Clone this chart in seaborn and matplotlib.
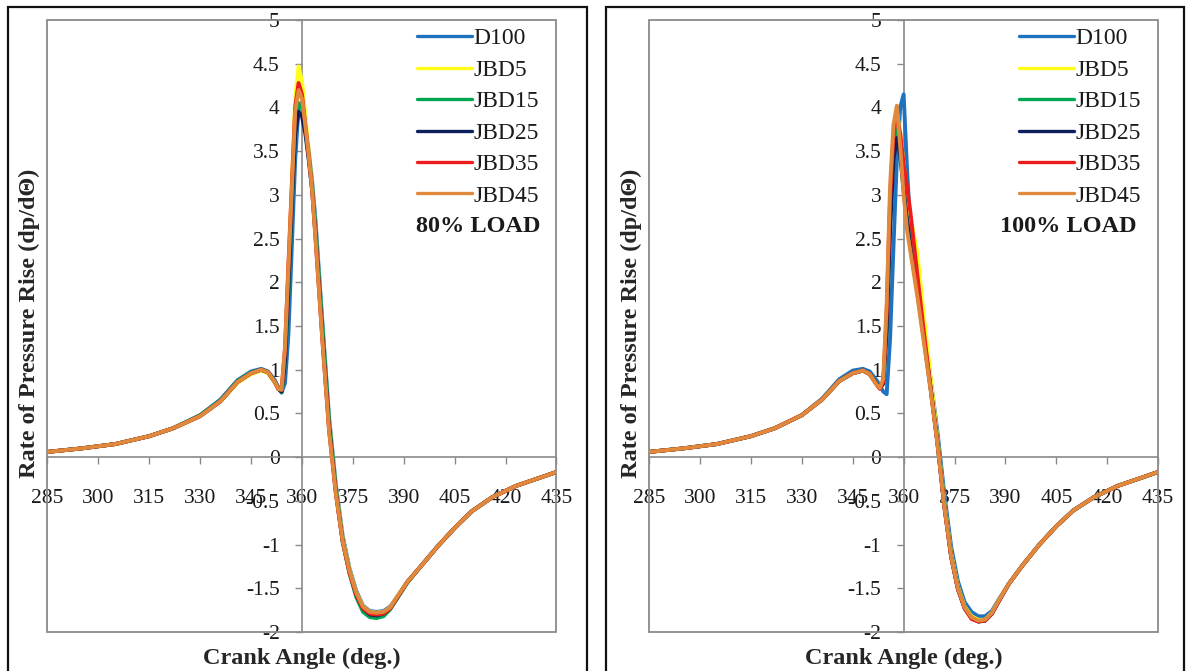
import numpy as np
import pandas as pd
import seaborn as sns
import matplotlib.pyplot as plt
from matplotlib.patches import Rectangle
from matplotlib.ticker import FuncFormatter, MultipleLocator

# crank angle grid (deg.)
ANGLE = [285, 295, 305, 315, 322, 330, 336, 341, 345, 348,
         350, 352, 353, 354, 355, 356, 357, 358, 359, 360,
         361, 362, 363, 364, 366, 368, 370, 372, 374, 376,
         378, 380, 382, 384, 386, 388, 391, 395, 400, 405,
         410, 416, 423, 435]

FUELS = ['D100', 'JBD5', 'JBD15', 'JBD25', 'JBD35', 'JBD45']
COLORS = ['#1f72bd', '#ffff1a', '#00a651', '#0d1f5c', '#ee1c1c', '#e0893c']

# 80 % load, dp/dtheta
d100_80 = [0.06, 0.10, 0.15, 0.24, 0.33, 0.48, 0.66, 0.88, 0.98, 1.01,
           0.98, 0.88, 0.80, 0.74, 0.85, 1.40, 2.40, 3.40, 4.00, 4.05,
           3.80, 3.50, 3.15, 2.70, 1.55, 0.45, -0.32, -0.90, -1.27, -1.53,
           -1.70, -1.76, -1.77, -1.76, -1.71, -1.60, -1.43, -1.25, -1.02, -0.81,
           -0.62, -0.46, -0.33, -0.17]
jbd5_80 = [0.06, 0.10, 0.15, 0.24, 0.33, 0.47, 0.64, 0.85, 0.95, 0.99,
           0.96, 0.85, 0.78, 0.77, 1.20, 2.10, 3.10, 4.10, 4.47, 4.30,
           3.90, 3.50, 3.10, 2.60, 1.45, 0.40, -0.36, -0.93, -1.29, -1.55,
           -1.71, -1.77, -1.78, -1.77, -1.72, -1.60, -1.43, -1.25, -1.02, -0.81,
           -0.62, -0.46, -0.33, -0.17]
jbd15_80 = [0.06, 0.10, 0.15, 0.24, 0.33, 0.48, 0.65, 0.87, 0.97, 1.00,
            0.97, 0.87, 0.79, 0.74, 1.10, 1.90, 2.90, 3.80, 4.05, 4.00,
            3.75, 3.45, 3.10, 2.60, 1.50, 0.40, -0.38, -0.97, -1.33, -1.60,
            -1.77, -1.83, -1.84, -1.82, -1.74, -1.62, -1.44, -1.25, -1.02, -0.81,
            -0.62, -0.46, -0.33, -0.17]
jbd25_80 = [0.06, 0.10, 0.15, 0.24, 0.33, 0.47, 0.64, 0.86, 0.96, 1.00,
            0.97, 0.86, 0.78, 0.75, 1.10, 1.95, 2.90, 3.70, 3.95, 3.90,
            3.70, 3.40, 3.05, 2.55, 1.40, 0.35, -0.40, -0.96, -1.31, -1.57,
            -1.73, -1.80, -1.81, -1.79, -1.73, -1.61, -1.43, -1.25, -1.02, -0.81,
            -0.62, -0.46, -0.33, -0.17]
jbd35_80 = [0.06, 0.10, 0.15, 0.24, 0.33, 0.47, 0.64, 0.86, 0.96, 1.00,
            0.97, 0.86, 0.78, 0.77, 1.25, 2.20, 3.10, 4.00, 4.28, 4.15,
            3.80, 3.45, 3.05, 2.50, 1.35, 0.30, -0.42, -0.97, -1.32, -1.57,
            -1.73, -1.79, -1.80, -1.79, -1.73, -1.61, -1.43, -1.25, -1.02, -0.81,
            -0.62, -0.46, -0.33, -0.17]
jbd45_80 = [0.06, 0.10, 0.15, 0.24, 0.33, 0.47, 0.64, 0.86, 0.96, 1.00,
            0.97, 0.86, 0.78, 0.77, 1.25, 2.15, 3.05, 3.95, 4.20, 4.10,
            3.80, 3.45, 3.05, 2.50, 1.35, 0.30, -0.42, -0.96, -1.30, -1.55,
            -1.71, -1.77, -1.78, -1.77, -1.72, -1.60, -1.43, -1.25, -1.02, -0.81,
            -0.62, -0.46, -0.33, -0.17]

# 100 % load, dp/dtheta
d100_100 = [0.06, 0.10, 0.15, 0.24, 0.33, 0.48, 0.67, 0.89, 0.99, 1.01,
            0.98, 0.88, 0.82, 0.75, 0.72, 1.35, 2.40, 3.40, 4.00, 4.15,
            3.30, 2.60, 2.30, 2.05, 1.48, 0.88, 0.28, -0.42, -1.02, -1.42,
            -1.66, -1.77, -1.82, -1.82, -1.76, -1.63, -1.45, -1.24, -1.00, -0.79,
            -0.61, -0.46, -0.33, -0.17]
jbd5_100 = [0.06, 0.10, 0.15, 0.24, 0.33, 0.48, 0.66, 0.87, 0.96, 0.99,
            0.95, 0.84, 0.79, 0.86, 1.60, 2.90, 3.70, 3.95, 3.70, 3.35,
            3.00, 2.75, 2.55, 2.35, 1.60, 0.90, 0.20, -0.52, -1.10, -1.48,
            -1.71, -1.82, -1.86, -1.86, -1.78, -1.64, -1.45, -1.24, -1.00, -0.79,
            -0.61, -0.46, -0.33, -0.17]
jbd15_100 = [0.06, 0.10, 0.15, 0.24, 0.33, 0.48, 0.66, 0.87, 0.96, 0.99,
             0.95, 0.84, 0.79, 0.84, 1.50, 2.70, 3.50, 3.75, 3.50, 3.10,
             2.70, 2.40, 2.15, 1.90, 1.35, 0.78, 0.16, -0.55, -1.13, -1.50,
             -1.73, -1.84, -1.88, -1.87, -1.79, -1.65, -1.45, -1.24, -1.00, -0.79,
             -0.61, -0.46, -0.33, -0.17]
jbd25_100 = [0.06, 0.10, 0.15, 0.24, 0.33, 0.48, 0.66, 0.87, 0.96, 0.99,
             0.95, 0.84, 0.79, 0.84, 1.45, 2.60, 3.40, 3.65, 3.45, 3.05,
             2.70, 2.40, 2.15, 1.90, 1.35, 0.77, 0.15, -0.56, -1.14, -1.51,
             -1.73, -1.84, -1.88, -1.87, -1.79, -1.65, -1.45, -1.24, -1.00, -0.79,
             -0.61, -0.46, -0.33, -0.17]
jbd35_100 = [0.06, 0.10, 0.15, 0.24, 0.33, 0.48, 0.66, 0.87, 0.96, 0.99,
             0.95, 0.83, 0.78, 0.86, 1.65, 2.95, 3.70, 3.90, 3.70, 3.35,
             3.10, 2.80, 2.45, 2.10, 1.42, 0.78, 0.15, -0.57, -1.14, -1.51,
             -1.73, -1.85, -1.88, -1.87, -1.79, -1.65, -1.45, -1.24, -1.00, -0.79,
             -0.61, -0.46, -0.33, -0.17]
jbd45_100 = [0.06, 0.10, 0.15, 0.24, 0.33, 0.48, 0.66, 0.87, 0.96, 0.99,
             0.95, 0.83, 0.79, 0.90, 1.75, 3.10, 3.80, 4.02, 3.55, 3.00,
             2.60, 2.35, 2.10, 1.85, 1.30, 0.75, 0.14, -0.56, -1.13, -1.50,
             -1.72, -1.83, -1.87, -1.86, -1.78, -1.64, -1.45, -1.24, -1.00, -0.79,
             -0.61, -0.46, -0.33, -0.17]

load80 = [d100_80, jbd5_80, jbd15_80, jbd25_80, jbd35_80, jbd45_80]
load100 = [d100_100, jbd5_100, jbd15_100, jbd25_100, jbd35_100, jbd45_100]

sns.set_theme(style='white')
plt.rcParams['font.family'] = ['Liberation Serif', 'DejaVu Serif']
plt.rcParams['text.color'] = '#1a1a1a'

GRAY = '#8a8a8a'


def draw_panel(ax, series, load_text, text_x):
    df = pd.concat([pd.DataFrame({'angle': ANGLE, 'rate': vals, 'fuel': name})
                    for name, vals in zip(FUELS, series)])
    sns.lineplot(data=df, x='angle', y='rate', hue='fuel', hue_order=FUELS,
                 palette=dict(zip(FUELS, COLORS)), linewidth=2.8, ax=ax,
                 zorder=3, solid_joinstyle='round', solid_capstyle='round')

    ax.set_xlim(285, 435)
    ax.set_ylim(-2, 5)
    ax.xaxis.set_major_locator(MultipleLocator(15))
    ax.yaxis.set_major_locator(MultipleLocator(0.5))
    ax.yaxis.set_major_formatter(FuncFormatter(lambda v, p: f'{v:g}'))
    ax.xaxis.set_major_formatter(FuncFormatter(lambda v, p: f'{v:g}'))

    # axes cross at 360 deg / 0
    ax.spines['left'].set_position(('data', 360))
    ax.spines['bottom'].set_position(('data', 0))
    for s in ['left', 'bottom']:
        ax.spines[s].set_color(GRAY)
        ax.spines[s].set_linewidth(1.2)
    ax.spines['top'].set_visible(False)
    ax.spines['right'].set_visible(False)
    ax.add_patch(Rectangle((0, 0), 1, 1, transform=ax.transAxes, fill=False,
                           edgecolor=GRAY, lw=1.3, clip_on=False, zorder=1))

    ax.tick_params(axis='y', direction='out', length=5, width=1, color=GRAY,
                   pad=11, labelsize=15.5, labelcolor='#1a1a1a', left=True)
    ax.tick_params(axis='x', direction='out', length=5, width=1, color=GRAY,
                   pad=18, labelsize=15.5, labelcolor='#1a1a1a', bottom=True)

    ax.set_xlabel('Crank Angle (deg.)', fontsize=17.5, fontweight='bold')
    ax.set_ylabel('Rate of Pressure Rise (dp/dΘ)', fontsize=17.5, fontweight='bold')
    ax.xaxis.set_label_coords(0.5, -0.026)
    ax.yaxis.set_label_coords(-0.014, 0.505)

    old = ax.get_legend()
    handles = old.legend_handles
    labels = [t.get_text() for t in old.get_texts()]
    for h in handles:
        h.set_linewidth(2.4)
    ax.legend(handles, labels, loc='upper left', bbox_to_anchor=(0.726, 0.987),
              frameon=False, fontsize=17, handlelength=2.35, handletextpad=0.05,
              labelspacing=0.42, borderpad=0, borderaxespad=0)

    ax.text(text_x, 0.663, load_text, transform=ax.transAxes, ha='left',
            va='center', fontsize=17.5, fontweight='bold')


fig = plt.figure(figsize=(11.9, 6.71), dpi=100)
ax1 = fig.add_axes([0.0399, 0.0581, 0.4277, 0.9121])
ax2 = fig.add_axes([0.5455, 0.0581, 0.4277, 0.9121])

draw_panel(ax1, load80, '80% LOAD', 0.725)
draw_panel(ax2, load100, '100% LOAD', 0.690)

# outer frames of the two panels
for x0, w in [(0.0067, 0.4866), (0.5092, 0.4857)]:
    fig.add_artist(Rectangle((x0, -0.1), w, 1.0896, transform=fig.transFigure,
                             fill=False, edgecolor='#111111', lw=1.6))

fig.savefig('out.png', dpi=100)
